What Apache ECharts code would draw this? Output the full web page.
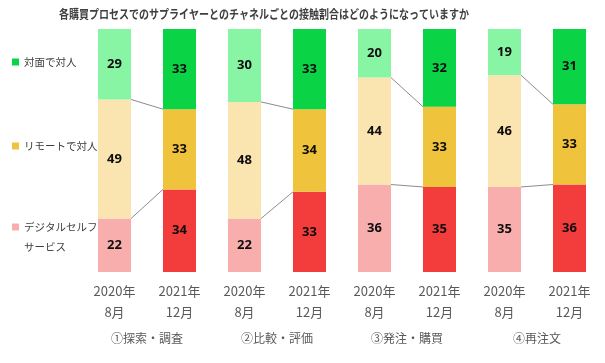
<!DOCTYPE html>
<html>
<head>
<meta charset="utf-8">
<script src="https://cdn.jsdelivr.net/npm/echarts@6/dist/echarts.min.js"></script>
<style>html,body{margin:0;padding:0;background:#fff;}#c{width:605px;height:363px;}</style>
</head>
<body>
<div id="c"></div>
<script>
var titleText = '各購買プロセスでのサプライヤーとのチャネルごとの接触割合はどのようになっていますか';
var categories = ['2020年\n8月','2021年\n12月','2020年\n8月','2021年\n12月','2020年\n8月','2021年\n12月','2020年\n8月','2021年\n12月'];
var groups = ['①探索・調査','②比較・評価','③発注・購買','④再注文'];
var seriesNames = ['対面で対人','リモートで対人','デジタルセルフ\nサービス'];
var faceToFace = [29,33,30,33,20,32,19,31];
var remote = [49,33,48,34,44,33,46,33];
var digital = [22,34,22,33,36,35,35,36];

var BAR_W = 33;
var FONT = "'Noto Sans CJK JP','Noto Sans',sans-serif";

function colored(values, light, dark) {
  return values.map(function (v, i) {
    return { value: v, itemStyle: { color: i % 2 === 0 ? light : dark } };
  });
}

var connectors = [];
for (var g = 0; g < groups.length; g++) {
  var i = g * 2;
  connectors.push([i, digital[i], digital[i + 1]]);
  connectors.push([i, digital[i] + remote[i], digital[i + 1] + remote[i + 1]]);
}

var labelCfg = { show: true, position: 'inside', color: '#0d0d0d', fontWeight: 'bold', fontSize: 13, fontFamily: "'Noto Sans',sans-serif" };
var legendText = { fontSize: 10.5, color: '#404040', lineHeight: 20, fontFamily: FONT };

var chart = echarts.init(document.getElementById('c'), null, { renderer: 'canvas' });
chart.setOption({
  animation: false,
  backgroundColor: '#fff',
  graphic: [{
    type: 'text', x: 264, y: 14, scaleX: 0.8,
    style: { text: titleText, fontSize: 12.5, fontWeight: 'bold', fill: '#404040', align: 'center', verticalAlign: 'middle', fontFamily: FONT }
  }],
  legend: [
    { data: [seriesNames[0]], left: 12, top: 52, padding: 0, itemWidth: 7, itemHeight: 7, icon: 'rect', textStyle: legendText },
    { data: [seriesNames[1]], left: 12, top: 136, padding: 0, itemWidth: 7, itemHeight: 7, icon: 'rect', textStyle: legendText },
    { data: [seriesNames[2]], left: 12, top: 197, padding: 0, itemWidth: 7, itemHeight: 7, icon: 'rect', textStyle: legendText,
      formatter: function (name) { return '\n' + name; } }
  ],
  grid: { left: 82, right: 3, top: 29, bottom: 91 },
  xAxis: [
    { type: 'category', data: categories, axisLine: { show: false }, axisTick: { show: false },
      axisLabel: { color: '#595959', fontSize: 13, lineHeight: 21, margin: 9, fontFamily: FONT, interval: 0 } },
    { type: 'category', data: groups, position: 'bottom', offset: 52, axisLine: { show: false }, axisTick: { show: false },
      axisLabel: { color: '#595959', fontSize: 12, margin: 8, fontFamily: FONT, interval: 0 } }
  ],
  yAxis: { type: 'value', min: 0, max: 100, show: false, splitLine: { show: false } },
  series: [
    { name: seriesNames[2], type: 'bar', stack: 's', barWidth: BAR_W, color: '#f9aeae',
      data: colored(digital, '#f9aeae', '#f33c3c'), label: labelCfg },
    { name: seriesNames[1], type: 'bar', stack: 's', barWidth: BAR_W, color: '#f0c33c',
      data: colored(remote, '#fae5b0', '#f0c33c'), label: labelCfg },
    { name: seriesNames[0], type: 'bar', stack: 's', barWidth: BAR_W, color: '#0bd346',
      data: colored(faceToFace, '#88f5a4', '#0bd346'), label: labelCfg },
    { name: 'connectors', type: 'custom', silent: true, z: 5,
      data: connectors,
      renderItem: function (params, api) {
        var x = api.value(0);
        var p1 = api.coord([x, api.value(1)]);
        var p2 = api.coord([x + 1, api.value(2)]);
        return {
          type: 'line',
          shape: { x1: p1[0] + BAR_W / 2, y1: p1[1], x2: p2[0] - BAR_W / 2, y2: p2[1] },
          style: { stroke: '#8c8c8c', lineWidth: 1 }
        };
      }
    }
  ]
});
</script>
</body>
</html>
